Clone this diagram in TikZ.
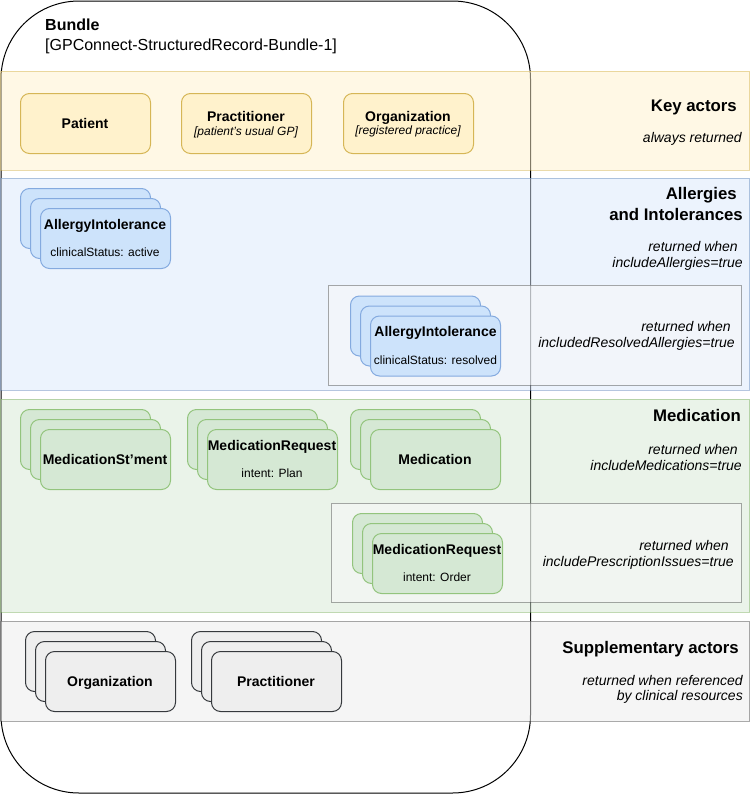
\documentclass[tikz,border=0pt]{standalone}
\usepackage{fontspec}
\setmainfont{Liberation Sans}
\definecolor{yfill}{HTML}{FFF2CC}
\definecolor{ydraw}{HTML}{D6B656}
\definecolor{bfill}{HTML}{CDE3FB}
\definecolor{bdraw}{HTML}{84AADF}
\definecolor{gfill}{HTML}{D5E8D4}
\definecolor{gdraw}{HTML}{93C47D}
\definecolor{kfill}{HTML}{EEEEEE}
\definecolor{kdraw}{HTML}{36393D}
\definecolor{ifill}{HTML}{F8F8F8}
\definecolor{ybandf}{HTML}{FFF2CC}
\definecolor{ybandd}{HTML}{D6B656}
\definecolor{bbandf}{HTML}{DAE8FC}
\definecolor{bbandd}{HTML}{6C8EBF}
\definecolor{gbandf}{HTML}{D5E8D4}
\definecolor{gbandd}{HTML}{82B366}
\definecolor{kbandf}{HTML}{EBEBEB}
\definecolor{kbandd}{HTML}{555555}
\newcommand\fB{\fontsize{14}{16}\selectfont\bfseries}
\newcommand\fS{\fontsize{12}{14}\selectfont}
\newcommand\fH{\fontsize{16.8}{19}\selectfont\bfseries}
\newcommand\fI{\fontsize{14}{16}\selectfont\itshape}
\newcommand\fT{\fontsize{16}{19}\selectfont}
\newcommand\mystack[4]{%
  \node[#4] (#1a) at (#2,#3) {};
  \node[#4] (#1b) at (#2+10,#3+10) {};
  \node[#4] (#1c) at (#2+20,#3+20) {};}
\tikzset{
  boxbase/.style={draw, rounded corners=9pt, minimum width=130pt, minimum height=60pt,
    anchor=north west, inner sep=0pt, line width=1pt},
  ybox/.style={boxbase, fill=yfill, draw=ydraw},
  bbox/.style={boxbase, fill=bfill, draw=bdraw},
  gbox/.style={boxbase, fill=gfill, draw=gdraw},
  kbox/.style={boxbase, fill=kfill, draw=kdraw},
  band/.style={line width=1pt, fill opacity=0.5, draw opacity=0.5},
  innerbox/.style={line width=1pt, fill=ifill, draw=kbandd, fill opacity=0.5, draw opacity=0.5},
  ctxt/.style={inner sep=0pt, anchor=base},
  rtxt/.style={inner sep=0pt, anchor=base east},
  ltxt/.style={inner sep=0pt, anchor=base west},
}
\begin{document}
\begin{tikzpicture}[x=1pt,y=-1pt]
\useasboundingbox (0,0) rectangle (750,795);
% bundle outline
\draw[line width=1pt, rounded corners=78pt] (1,1) rectangle (530.5,793);
% bands
\filldraw[band, fill=ybandf, draw=ybandd] (0.5,71) rectangle (749.5,170);
\filldraw[band, fill=bbandf, draw=bbandd] (0.5,178) rectangle (749.5,390);
\filldraw[band, fill=gbandf, draw=gbandd] (0.5,399) rectangle (749.5,612);
\filldraw[band, fill=kbandf, draw=kbandd] (0.5,621) rectangle (749.5,721);
% inner boxes
\filldraw[innerbox] (328,285) rectangle (741,385);
\filldraw[innerbox] (331,503) rectangle (741,602);

% bundle title
\node[ltxt] (bt1) at (45,30.8) {\fT\bfseries Bundle};
\node[ltxt] (bt2) at (45,50) {\fT [GPConnect-StructuredRecord-Bundle-1]};

% key actors
\node[ybox] (pat) at (20,93) {};
\node[ybox] (prac) at (181,93) {};
\node[ybox] (org) at (343,93) {};
\node[ctxt] (patT) at (85,128) {\fB Patient};
\node[ctxt] (pracT) at (246,121) {\fB Practitioner};
\node[ctxt] (pracS) at (246,135) {\fS\itshape [patient's usual GP]};
\node[ctxt] (orgT) at (408,121) {\fB Organization};
\node[ctxt] (orgS) at (408,134.5) {\fS\itshape [registered practice]};
\node[rtxt] (kaH) at (737,111) {\fH Key actors};
\node[rtxt] (kaI) at (742,142) {\fI always returned};

% allergies
\mystack{alA}{20}{188}{bbox}
\node[ctxt] (alAT) at (105,229) {\fB AllergyIntolerance};
\node[ctxt] (alAS) at (105,256) {\fS clinicalStatus: active};
\mystack{alR}{350}{295.5}{bbox}
\node[ctxt] (alRT) at (435.5,336.7) {\fB AllergyIntolerance};
\node[ctxt] (alRS) at (435.5,364) {\fS clinicalStatus: resolved};
\node[rtxt] (alH1) at (737,199.5) {\fH Allergies};
\node[rtxt] (alH2) at (743,220) {\fH and Intolerances};
\node[rtxt] (alI1) at (738,251.5) {\fI returned when};
\node[rtxt] (alI2) at (743,267.7) {\fI includeAllergies=true};
\node[rtxt] (alI3) at (731,331.7) {\fI returned when};
\node[rtxt] (alI4) at (735,347.7) {\fI includedResolvedAllergies=true};

% medication
\mystack{ms}{20}{409}{gbox}
\node[ctxt] (msT) at (105,464) {\fB MedicationSt'ment};
\mystack{mrp}{187}{409}{gbox}
\node[ctxt] (mrpT) at (272,450) {\fB MedicationRequest};
\node[ctxt] (mrpS) at (272,477) {\fS intent: Plan};
\mystack{med}{350}{409}{gbox}
\node[ctxt] (medT) at (435,464) {\fB Medication};
\mystack{mro}{352}{513}{gbox}
\node[ctxt] (mroT) at (437,554.3) {\fB MedicationRequest};
\node[ctxt] (mroS) at (437,581.7) {\fS intent: Order};
\node[rtxt] (mH) at (741,421.7) {\fH Medication};
\node[rtxt] (mI1) at (738,454) {\fI returned when};
\node[rtxt] (mI2) at (742,470) {\fI includeMedications=true};
\node[rtxt] (mI3) at (729,550) {\fI returned when};
\node[rtxt] (mI4) at (734,566) {\fI includePrescriptionIssues=true};

% supplementary
\mystack{so}{25}{631}{kbox}
\node[ctxt] (soT) at (110,686) {\fB Organization};
\mystack{sp}{191}{631}{kbox}
\node[ctxt] (spT) at (276,686) {\fB Practitioner};
\node[rtxt] (sH) at (739,653) {\fH Supplementary actors};
\node[rtxt] (sI1) at (743,685) {\fI returned when referenced};
\node[rtxt] (sI2) at (743,700.5) {\fI by clinical resources};
\end{tikzpicture}
\end{document}
